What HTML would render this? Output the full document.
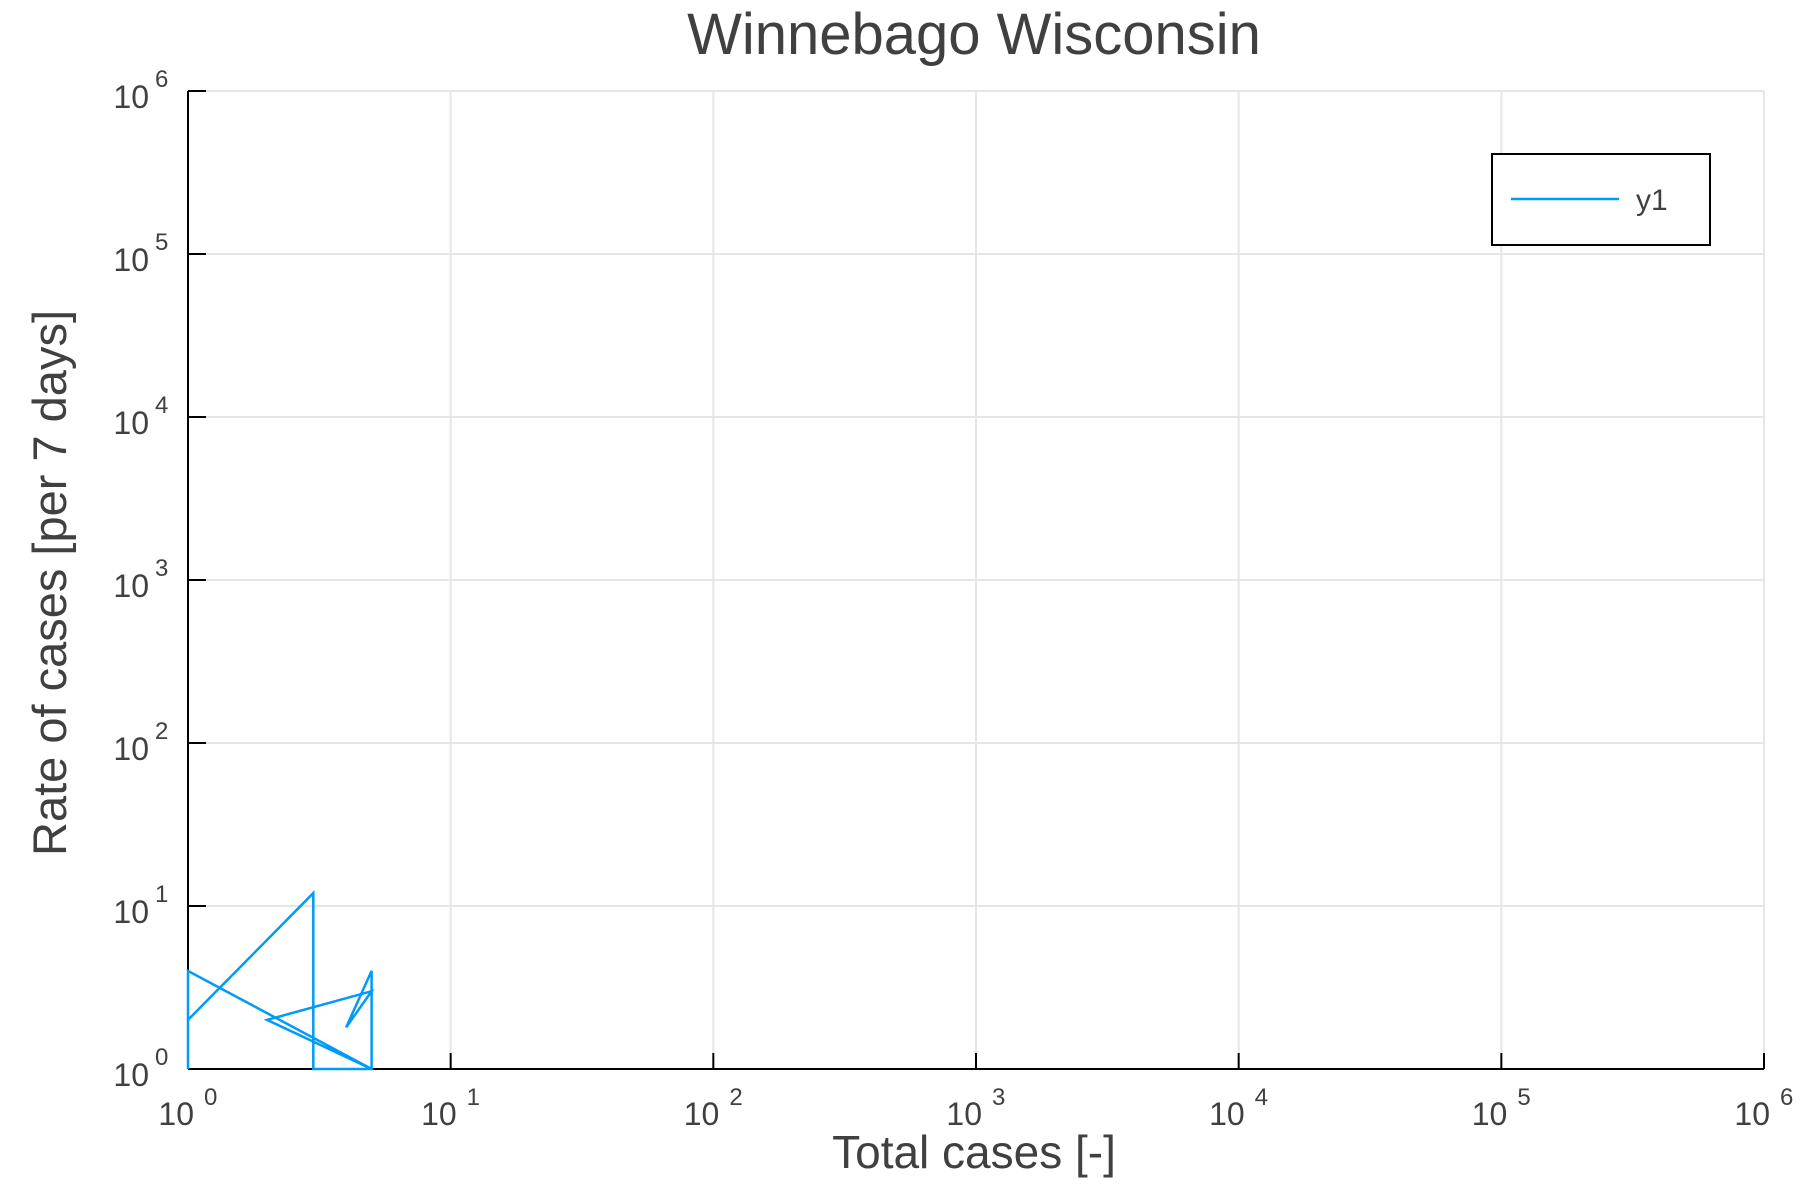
<!DOCTYPE html>
<html><head><meta charset="utf-8"><style>
html,body{margin:0;padding:0;background:#fff}
svg{display:block;font-family:"Liberation Sans",Arial,sans-serif}
</style></head><body>
<svg id="chart" width="1800" height="1200" viewBox="0 0 1800 1200">
<rect width="1800" height="1200" fill="#fff"/>
<text x="974" y="54" text-anchor="middle" font-size="58" fill="#404040">Winnebago Wisconsin</text>
<g id="grid"></g>
<g id="axes"></g>
<g id="series"></g>
<text x="974" y="1168" text-anchor="middle" font-size="46" fill="#404040">Total cases [-]</text>
<text transform="translate(66,583) rotate(-90)" text-anchor="middle" font-size="47" fill="#404040">Rate of cases [per 7 days]</text>
<g>
<rect x="1492" y="154" width="218" height="91" fill="#fff" stroke="#000" stroke-width="2"/>
<line x1="1511" y1="199" x2="1619" y2="199" stroke="#009af9" stroke-width="2.5"/>
<text x="1636" y="210" font-size="30" fill="#404040">y1</text>
</g>
</svg>
<script>
const xValues = [1, 1, 5, 2, 5, 4, 5, 5, 3, 3, 1];
const yValues = [1, 4, 1, 2, 3, 1.8, 4, 1, 1, 12, 2];
const xTickExps = [0, 1, 2, 3, 4, 5, 6];
const yTickExps = [0, 1, 2, 3, 4, 5, 6];

const X0 = 188, X1 = 1764, Y0 = 1069, Y1 = 91;
const xScale = v => X0 + (Math.log10(v) - 0) / 6 * (X1 - X0);
const yScale = v => Y0 - (Math.log10(v) - 0) / 6 * (Y0 - Y1);
const NS = "http://www.w3.org/2000/svg";
function mk(tag, attrs, parent){const e=document.createElementNS(NS,tag);for(const k in attrs)e.setAttribute(k,attrs[k]);parent.appendChild(e);return e;}
const grid = document.getElementById('grid');
const axes = document.getElementById('axes');
const series = document.getElementById('series');

xTickExps.forEach(p => {
  const x = xScale(Math.pow(10,p));
  const g = mk('line',{x1:x,y1:Y0,x2:x,y2:Y1,stroke:'#e6e6e6','stroke-width':2},grid);
  
  
  const t = mk('line',{x1:x,y1:Y0,x2:x,y2:Y0-16,stroke:'#000','stroke-width':2},axes);
  
  
  const lbl = mk('text',{x:x+6,y:1125,'text-anchor':'end','font-size':32,fill:'#404040'},axes);
  
  
  lbl.textContent='10';
  const sup = mk('text',{x:x+16,y:1105,'font-size':24,fill:'#404040'},axes);
  
  
  sup.textContent=String(p);
});
yTickExps.forEach(p => {
  const y = yScale(Math.pow(10,p));
  const g = mk('line',{x1:X0,y1:y,x2:X1,y2:y,stroke:'#e6e6e6','stroke-width':2},grid);
  
  
  const t = mk('line',{x1:X0,y1:y,x2:X0+18,y2:y,stroke:'#000','stroke-width':2},axes);
  
  
  const lbl = mk('text',{x:149,y:y+17,'text-anchor':'end','font-size':32,fill:'#404040'},axes);
  
  
  lbl.textContent='10';
  const sup = mk('text',{x:155,y:y-4,'font-size':24,fill:'#404040'},axes);
  
  
  sup.textContent=String(p);
});
const xa = mk('line',{x1:X0,y1:Y0,x2:X1,y2:Y0,stroke:'#000','stroke-width':2},axes);


const ya = mk('line',{x1:X0,y1:Y0,x2:X0,y2:Y1,stroke:'#000','stroke-width':2},axes);



const pts = xValues.map((v,i)=>xScale(v).toFixed(1)+','+yScale(yValues[i]).toFixed(1)).join(' ');
const line = mk('polyline',{points:pts,fill:'none',stroke:'#009af9','stroke-width':2.5,'stroke-linejoin':'miter'},series);


</script>
</body></html>
